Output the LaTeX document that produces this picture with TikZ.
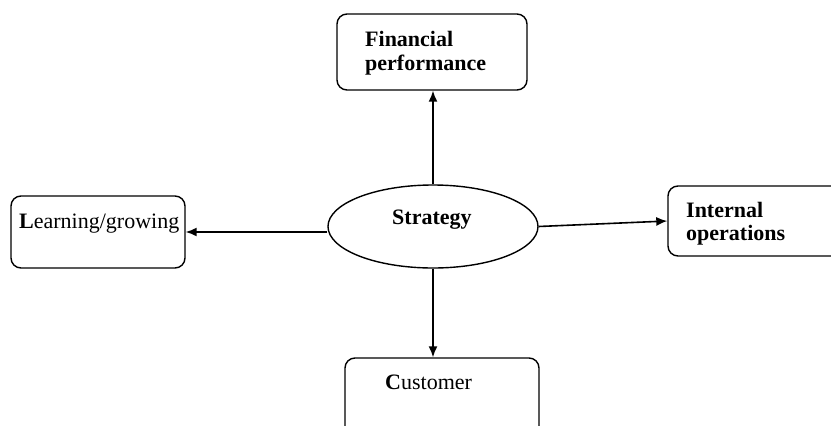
\documentclass[tikz,border=0pt]{standalone}
\usepackage{fontspec}
\setmainfont{Liberation Serif}
\usetikzlibrary{arrows.meta,shapes.geometric}
\begin{document}
\begin{tikzpicture}[x=1pt,y=-1pt,
  box/.style={draw, line width=1.4pt, rounded corners=10pt, inner sep=0pt},
  oval/.style={draw, ellipse, line width=1.4pt, inner sep=0pt},
  lbl/.style={anchor=base west, inner sep=0pt, font=\fontsize{22}{24}\selectfont},
  conn/.style={-{Latex[length=11pt,width=9pt]}, line width=1.6pt}]
\useasboundingbox (0,0) rectangle (831,426);
\clip (0,0) rectangle (831,426);
% boxes
\node[box, minimum width=190pt, minimum height=76pt] (fin) at (432,52) {};
\node[box, minimum width=174pt, minimum height=72pt] (learn) at (98,232) {};
\node[box, minimum width=192pt, minimum height=70pt] (int) at (764,221) {};
\node[box, minimum width=194pt, minimum height=82pt] (cust) at (442,399) {};
\node[oval, minimum width=210pt, minimum height=83pt] (strat) at (433,226.5) {};
% labels
\node[lbl] (fin1) at (365,46) {\textbf{Financial}};
\node[lbl] (fin2) at (365,70.5) {\textbf{performance}};
\node[lbl] (learnt) at (19,228) {\textbf{L}earning/growing};
\node[lbl] (int1) at (686,217) {\textbf{Internal}};
\node[lbl] (int2) at (686,240) {\textbf{operations}};
\node[lbl] (custt) at (385,389) {\textbf{C}ustomer};
\node[lbl] (stratt) at (392,224) {\textbf{Strategy}};
% connectors
\draw[conn] (strat.north) -- (strat.north |- fin.south);
\draw[conn] (learn.east -| strat.west) -- (learn.east);
\draw[conn] (strat.east) -- (int.west);
\draw[conn] (strat.south) -- (strat.south |- cust.north);
\end{tikzpicture}
\end{document}
